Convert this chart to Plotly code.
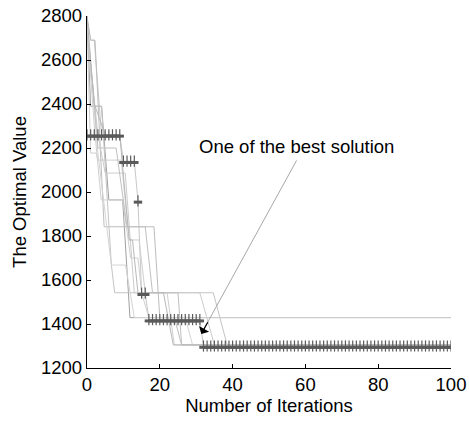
import plotly.graph_objects as go

# ---- data -------------------------------------------------------------
x_ticks = [0, 20, 40, 60, 80, 100]
y_ticks = [1200, 1400, 1600, 1800, 2000, 2200, 2400, 2600, 2800]

# individual runs (iteration, best-so-far value) breakpoints
run1_x = [0, 1, 2, 4, 9, 10, 13, 14, 15, 16, 17, 31, 32, 100]
run1_y = [2790, 2690, 2690, 2260, 2260, 2140, 2140, 1960, 1540, 1540, 1420, 1420, 1300, 1300]

run2_x = [0, 1, 4, 6, 9.8, 11.8, 100]
run2_y = [2800, 2390, 2390, 1964, 1964, 1429, 1429]

run3_x = [0, 1, 2.5, 3, 9.4, 11.6, 14.3, 16, 22, 24, 100]
run3_y = [2780, 2177, 2177, 2145, 2145, 1782, 1782, 1542, 1542, 1305, 1305]

run4_x = [0, 1, 2.2, 4.7, 18.4, 20, 24, 26, 100]
run4_y = [2800, 2690, 2690, 1842, 1842, 1429, 1429, 1305, 1305]

run5_x = [0, 2, 4, 6.7, 7.6, 34.7, 38.5, 100]
run5_y = [2800, 2388, 2388, 1668, 1542, 1542, 1305, 1305]

run6_x = [0, 3, 6.7, 10.6, 13, 27, 29, 100]
run6_y = [2770, 2177, 1668, 1668, 1429, 1429, 1305, 1305]

run7_x = [0, 3, 5, 10.5, 13, 31, 35, 100]
run7_y = [2740, 2260, 2086, 2086, 1542, 1542, 1305, 1305]

run8_x = [0, 2, 3.9, 9.8, 12, 14, 15, 17, 100]
run8_y = [2760, 2300, 1964, 1964, 1700, 1700, 1542, 1429, 1429]

run9_x = [0, 1.5, 3, 8, 11, 16, 18, 25, 26, 100]
run9_y = [2720, 2500, 2200, 2200, 1842, 1842, 1542, 1542, 1305, 1305]

run10_x = [0, 2, 5, 9, 11.6, 12.5, 14, 21, 23.7, 100]
run10_y = [2795, 2400, 2260, 2260, 1782, 1782, 1542, 1542, 1305, 1305]

run_colors = ["#c8c8c8", "#a0a0a0", "#cfcfcf", "#bdbdbd", "#c4c4c4",
              "#d4d4d4", "#cccccc", "#d0d0d0", "#c0c0c0", "#b8b8b8"]

# best solution: (first iteration, last iteration, value)
best_levels = [(0, 9, 2260), (10, 13, 2140), (14, 14, 1960),
               (15, 16, 1540), (17, 31, 1420), (32, 100, 1300)]

annotation_text = "One of the best solution"
x_title = "Number of Iterations"
y_title = "The Optimal Value"

# ---- figure -----------------------------------------------------------
runs = [(run1_x, run1_y), (run2_x, run2_y), (run3_x, run3_y), (run4_x, run4_y),
        (run5_x, run5_y), (run6_x, run6_y), (run7_x, run7_y), (run8_x, run8_y),
        (run9_x, run9_y), (run10_x, run10_y)]

fig = go.Figure()
for (rx, ry), c in zip(runs, run_colors):
    fig.add_trace(go.Scatter(x=rx, y=ry, mode="lines",
                             line=dict(color=c, width=1), hoverinfo="skip",
                             showlegend=False))

best_x, best_y = [], []
for a, b, v in best_levels:
    for i in range(a, b + 1):
        best_x.append(i)
        best_y.append(v)

mark_color = "#5a5a5a"
fig.add_trace(go.Scatter(x=best_x, y=[v - 6 for v in best_y], mode="markers",
                         marker=dict(symbol="line-ew-open", size=6, color=mark_color,
                                     line=dict(color=mark_color, width=3)),
                         showlegend=False, hoverinfo="skip"))
fig.add_trace(go.Scatter(x=best_x, y=best_y, mode="markers",
                         marker=dict(symbol="line-ns-open", size=8, color=mark_color,
                                     line=dict(color=mark_color, width=1.2)),
                         showlegend=False))

font = "Liberation Sans, Arial, sans-serif"
fs = 18.5

fig.add_annotation(x=57.5, y=2205, text=annotation_text, showarrow=False,
                   font=dict(family=font, size=fs, color="black"))
fig.add_annotation(x=31.4, y=1355, ax=57.8, ay=2150, axref="x", ayref="y",
                   text="", showarrow=True, arrowhead=0, arrowwidth=1,
                   arrowcolor="#a8a8a8")
fig.add_annotation(x=31.4, y=1355, ax=33.4, ay=1415, axref="x", ayref="y",
                   text="", showarrow=True, arrowhead=1, arrowsize=1.6,
                   arrowwidth=1.2, arrowcolor="black", standoff=0)

axis_common = dict(showline=True, linecolor="black", linewidth=1.3,
                   ticks="inside", ticklen=4, tickwidth=1.3, tickcolor="black",
                   showgrid=False, zeroline=False, mirror=False, automargin=False,
                   tickfont=dict(family=font, size=fs, color="black"),
                   title_font=dict(family=font, size=fs, color="black"))

fig.update_layout(
    width=469, height=425,
    margin=dict(l=87, r=18, t=16, b=57),
    plot_bgcolor="white", paper_bgcolor="white",
    xaxis=dict(range=[0, 100], tickvals=x_ticks, title_text=x_title,
               title_standoff=0, **axis_common),
    yaxis=dict(range=[1200, 2800], tickvals=y_ticks, title_text=y_title,
               title_standoff=9, **axis_common),
)

fig.write_html("out.html")
